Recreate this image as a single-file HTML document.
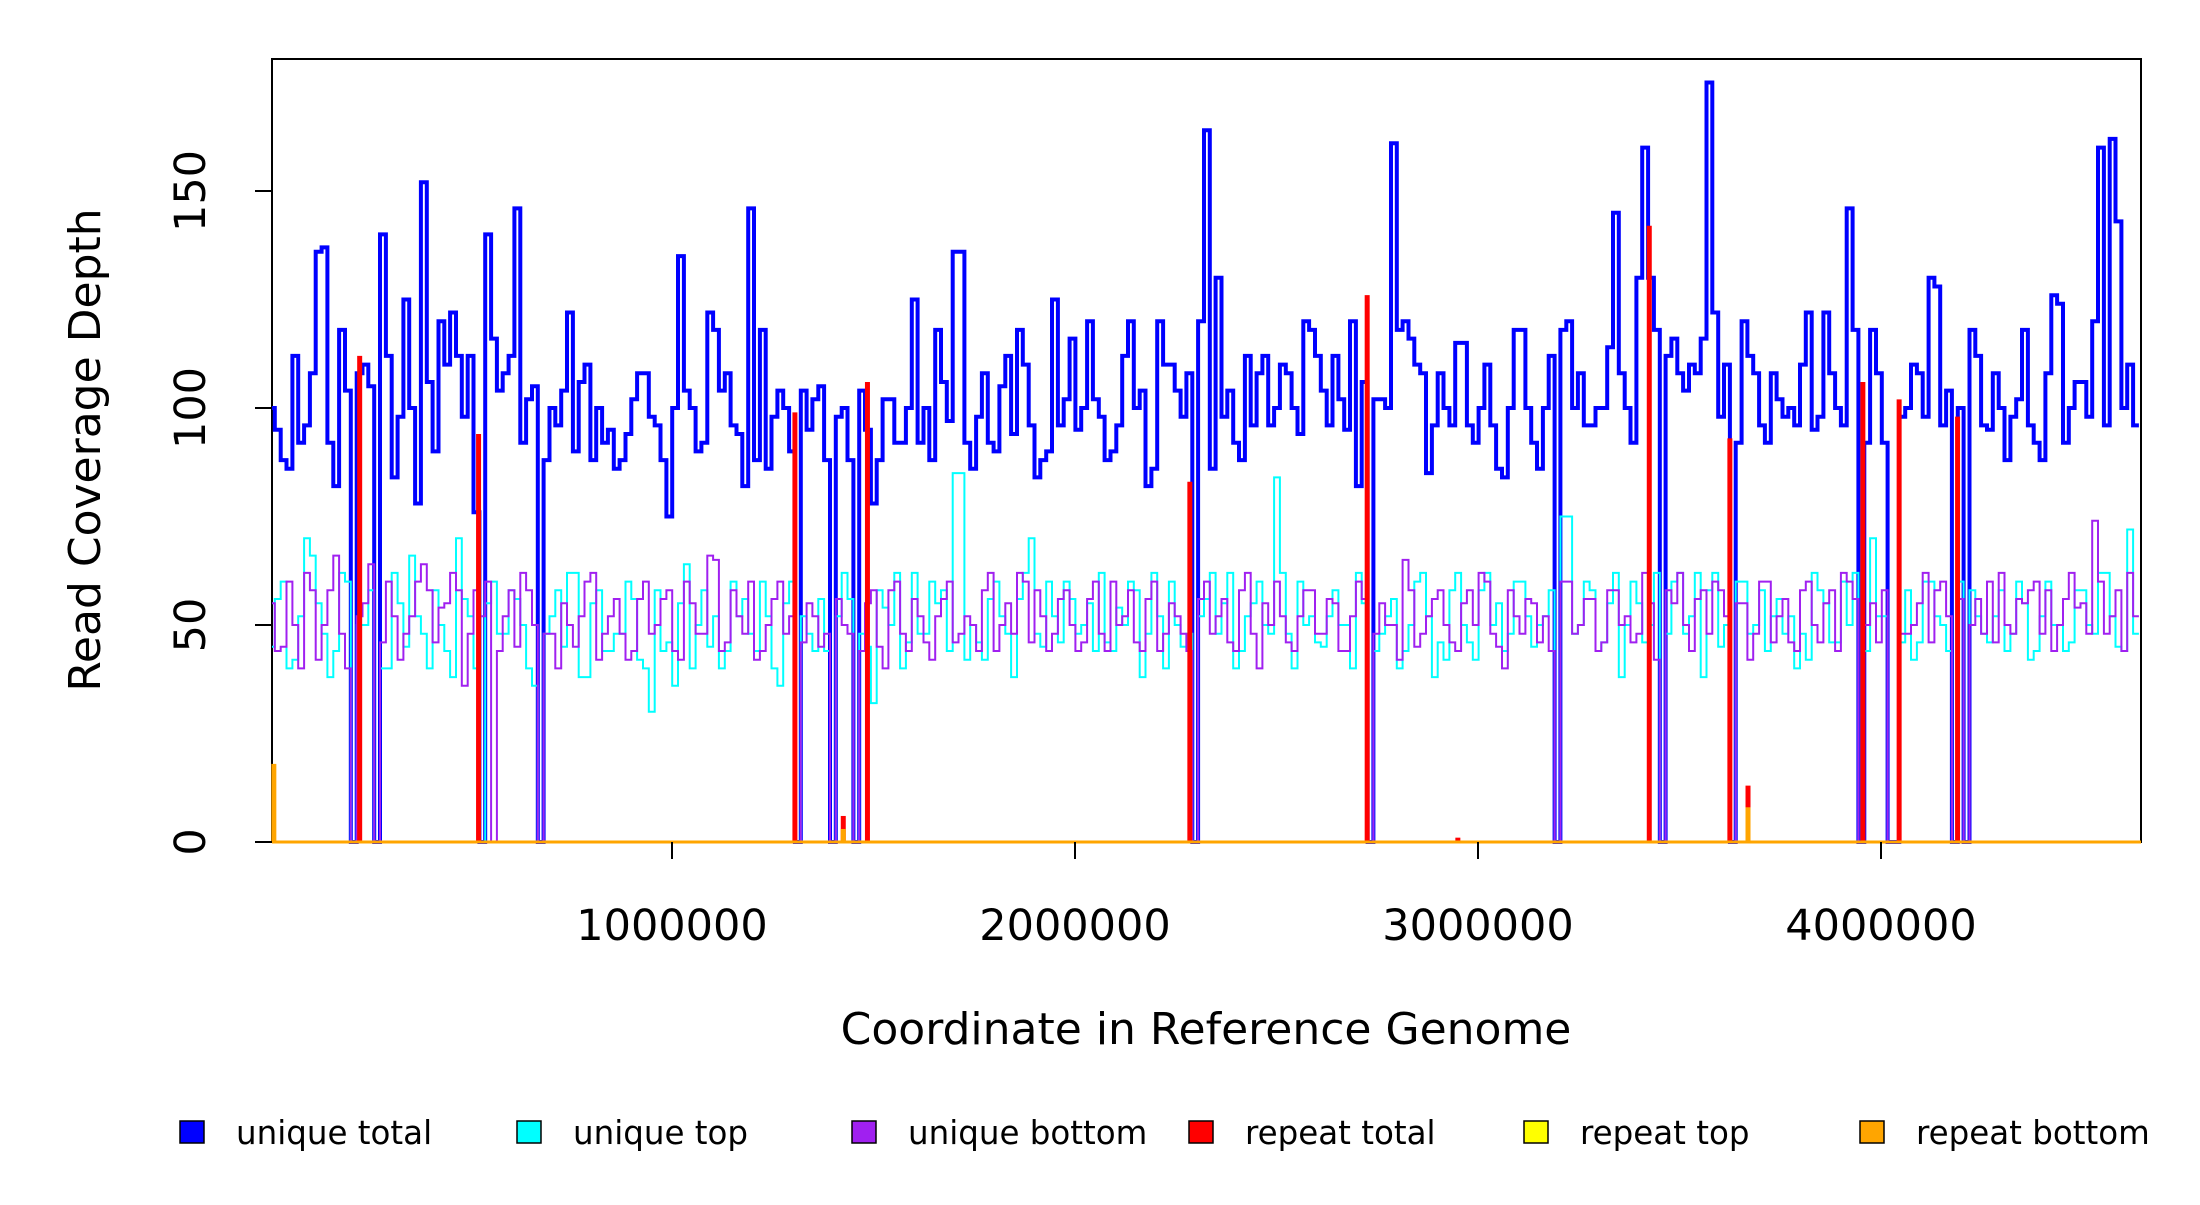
<!DOCTYPE html>
<html><head><meta charset="utf-8"><style>
html,body{margin:0;padding:0;background:#fff;}
svg text{font-family:"DejaVu Sans","Liberation Sans",sans-serif;fill:#000;}
</style></head><body>
<svg id="chart" width="2200" height="1200" viewBox="0 0 2200 1200" xmlns="http://www.w3.org/2000/svg">
<rect x="272" y="59" width="1869" height="783" fill="none" stroke="#000" stroke-width="2"/>
<g id="marks"></g>
<g id="axes"></g>
<text x="1206" y="1044" font-size="44" text-anchor="middle">Coordinate in Reference Genome</text>
<text transform="translate(100,450) rotate(-90)" font-size="44" text-anchor="middle">Read Coverage Depth</text>
<g id="legend"></g>
</svg>
<script>
const binSize = 14500;
const uniqueTotal = [100,95,88,86,112,92,96,108,136,137,92,82,118,104,0,108,110,105,0,140,
112,84,98,125,100,78,152,106,90,120,110,122,112,98,112,76,0,140,116,104,
108,112,146,92,102,105,0,88,100,96,104,122,90,106,110,88,100,92,95,86,
88,94,102,108,108,98,96,88,75,100,135,104,100,90,92,122,118,104,108,96,
94,82,146,88,118,86,98,104,100,90,0,104,95,102,105,88,0,98,100,88,
0,104,95,78,88,102,102,92,92,100,125,92,100,88,118,106,97,136,136,92,
86,98,108,92,90,105,112,94,118,110,96,84,88,90,125,96,102,116,95,100,
120,102,98,88,90,96,112,120,100,104,82,86,120,110,110,104,98,108,0,120,
164,86,130,98,104,92,88,112,96,108,112,96,100,110,108,100,94,120,118,112,
104,96,112,102,95,120,82,106,0,102,102,100,161,118,120,116,110,108,85,96,
108,100,96,115,115,96,92,100,110,96,86,84,100,118,118,100,92,86,100,112,
0,118,120,100,108,96,96,100,100,114,145,108,100,92,130,160,130,118,0,112,
116,108,104,110,108,116,175,122,98,110,0,92,120,112,108,96,92,108,102,98,
100,96,110,122,95,98,122,108,100,96,146,118,0,92,118,108,92,0,0,98,
100,110,108,98,130,128,96,104,0,100,0,118,112,96,95,108,100,88,98,102,
118,96,92,88,108,126,124,92,100,106,106,98,120,160,96,162,143,100,110,96];
const uniqueTop = [45,56,60,40,42,52,70,66,55,48,38,44,62,60,0,50,50,58,0,40,
40,62,55,45,66,52,48,40,58,50,44,38,70,56,52,40,0,55,60,48,
48,58,56,50,40,36,0,48,52,58,45,62,62,38,38,55,58,44,44,48,
48,60,56,42,40,30,58,44,46,36,55,64,40,50,58,45,52,40,44,60,
52,56,48,44,60,52,40,36,55,60,0,52,48,44,56,44,0,52,62,56,
0,48,45,32,58,54,50,62,40,46,62,48,48,60,55,58,44,85,85,42,
50,46,42,56,60,52,48,38,56,62,70,48,45,60,52,46,60,56,48,50,
55,44,62,46,44,54,50,60,58,38,48,62,52,40,60,50,45,48,0,52,
56,62,48,55,62,40,44,52,55,60,50,48,84,62,48,40,60,50,52,46,
45,52,58,50,50,40,62,55,0,44,48,52,56,40,44,50,60,62,52,38,
46,42,58,62,50,46,42,58,62,50,55,44,48,60,60,52,45,50,52,58,
0,75,75,48,50,60,58,44,46,55,62,38,50,60,55,46,50,62,0,48,
60,62,48,52,62,38,58,62,45,50,0,60,60,48,50,58,44,52,56,48,
52,40,48,42,62,58,55,46,46,60,50,62,0,44,70,52,52,0,0,46,
58,42,46,60,60,52,50,44,0,60,0,58,52,48,46,52,58,44,48,60,
55,42,44,52,60,50,50,44,46,58,58,50,48,62,62,52,45,44,72,48];
const uniqueBottom = [55,44,45,60,50,40,62,58,42,50,58,66,48,40,0,52,55,64,0,46,
60,52,42,48,52,60,64,58,46,54,55,62,58,36,48,58,52,60,0,44,
52,58,45,62,58,50,0,48,48,40,55,50,45,52,60,62,42,48,52,56,
48,42,44,56,60,48,50,56,58,44,42,60,55,48,48,66,65,44,46,58,
52,48,60,42,44,50,56,60,48,52,0,46,55,52,45,48,0,56,50,48,
0,44,55,58,45,40,58,60,48,44,56,52,46,42,52,56,60,46,48,52,
50,44,58,62,44,50,55,48,62,60,46,58,52,44,48,56,58,50,44,46,
56,60,48,44,60,50,52,58,46,44,56,60,44,48,55,52,48,44,0,56,
60,48,52,56,46,44,58,62,48,40,55,50,60,52,46,44,52,58,58,48,
48,56,55,44,44,52,60,56,0,48,55,50,50,42,65,58,45,48,52,56,
58,50,46,44,55,58,50,62,60,48,45,40,58,52,48,56,55,46,52,44,
0,60,60,48,50,56,56,44,46,58,58,50,52,46,48,62,55,42,0,58,
55,62,50,44,56,58,48,60,58,52,0,55,55,42,48,60,60,46,52,56,
46,44,58,60,50,46,55,58,44,62,60,56,0,50,55,46,58,0,0,48,
48,50,55,62,46,58,60,52,0,56,0,50,56,48,60,46,62,50,48,56,
55,58,60,48,58,44,50,56,62,54,55,48,74,60,48,52,58,44,62,52];
const repeatPos = [10000,225000,520000,1305000,1425000,1485000,2285000,2725000,2950000,3425000,3625000,3670000,3955000,4045000,4190000];
const repeatTotal = [0,112,94,99,6,106,83,126,1,142,93,13,106,102,98];
const repeatBottomPos = [12000,1425000,3670000];
const repeatBottom = [18,3,8];
const xTicks = [1000000,2000000,3000000,4000000];
const yTicks = [0,50,100,150];

const X0=272,X1=2141,Y0=842,Y1=59;
function xs(v){return 269+v*403/1e6;}
function ys(v){return Y0-v*4.34;}
const NS="http://www.w3.org/2000/svg";
const marks=document.getElementById('marks');
function stepPath(vals,color,w,name){
  let d='';
  for(let i=0;i<vals.length;i++){
    const xa=Math.max(X0,xs(i*binSize)), xb=Math.min(X1,xs((i+1)*binSize)), y=ys(vals[i]);
    d+=(i===0?'M':'L')+xa.toFixed(1)+','+y.toFixed(1)+'L'+xb.toFixed(1)+','+y.toFixed(1);
  }
  const p=document.createElementNS(NS,'path');
  p.setAttribute('d',d);p.setAttribute('fill','none');p.setAttribute('stroke',color);p.setAttribute('stroke-width',w);
  
  
  marks.appendChild(p);
}
function spikes(pos,vals,color,w,name){
  for(let i=0;i<pos.length;i++){
    const l=document.createElementNS(NS,'line');
    const x=xs(pos[i]);
    l.setAttribute('x1',x);l.setAttribute('x2',x);l.setAttribute('y1',ys(0));l.setAttribute('y2',ys(vals[i]));
    l.setAttribute('stroke',color);l.setAttribute('stroke-width',w);
    
    
    marks.appendChild(l);
  }
}
stepPath(uniqueTotal,'#0000ff',4,'unique-total-line');
stepPath(uniqueTop,'#00ffff',2,'unique-top-line');
stepPath(uniqueBottom,'#a020f0',2,'unique-bottom-line');
spikes(repeatPos,repeatTotal,'#ff0000',5,'repeat-total-spike');
spikes(repeatBottomPos,repeatBottom,'#ffa500',5,'repeat-bottom-spike');
const base=document.createElementNS(NS,'line');
base.setAttribute('x1',X0);base.setAttribute('x2',X1);base.setAttribute('y1',ys(0));base.setAttribute('y2',ys(0));
base.setAttribute('stroke','#ffa500');base.setAttribute('stroke-width',3);


marks.appendChild(base);

const axes=document.getElementById('axes');
xTicks.forEach(t=>{
  const x=xs(t);
  const l=document.createElementNS(NS,'line');
  l.setAttribute('x1',x);l.setAttribute('x2',x);l.setAttribute('y1',Y0);l.setAttribute('y2',Y0+17);l.setAttribute('stroke','#000');l.setAttribute('stroke-width',2);
  
  
  axes.appendChild(l);
  const tx=document.createElementNS(NS,'text');
  tx.setAttribute('x',x);tx.setAttribute('y',940);tx.setAttribute('font-size','43');tx.setAttribute('text-anchor','middle');
  tx.textContent=t;
  
  
  axes.appendChild(tx);
});
yTicks.forEach(t=>{
  const y=ys(t);
  const l=document.createElementNS(NS,'line');
  l.setAttribute('x1',X0-17);l.setAttribute('x2',X0);l.setAttribute('y1',y);l.setAttribute('y2',y);l.setAttribute('stroke','#000');l.setAttribute('stroke-width',2);
  
  
  axes.appendChild(l);
  const tx=document.createElementNS(NS,'text');
  tx.setAttribute('transform','translate(205,'+y+') rotate(-90)');tx.setAttribute('font-size','43');tx.setAttribute('text-anchor','middle');
  tx.textContent=t;
  
  
  axes.appendChild(tx);
});

const legNames=['unique total','unique top','unique bottom','repeat total','repeat top','repeat bottom'];
const legColors=['#0000ff','#00ffff','#a020f0','#ff0000','#ffff00','#ffa500'];
const legX=[192,529,864,1201,1536,1872];
const legend=document.getElementById('legend');
legNames.forEach((n,i)=>{
  const r=document.createElementNS(NS,'rect');
  r.setAttribute('x',legX[i]-12);r.setAttribute('y',1121);r.setAttribute('width',24);r.setAttribute('height',22);
  r.setAttribute('fill',legColors[i]);r.setAttribute('stroke','#000');r.setAttribute('stroke-width',1.5);
  
  
  legend.appendChild(r);
  const t=document.createElementNS(NS,'text');
  t.setAttribute('x',legX[i]+44);t.setAttribute('y',1144);t.setAttribute('font-size','32.5');
  t.textContent=n;
  
  
  legend.appendChild(t);
});
</script>
</body></html>
